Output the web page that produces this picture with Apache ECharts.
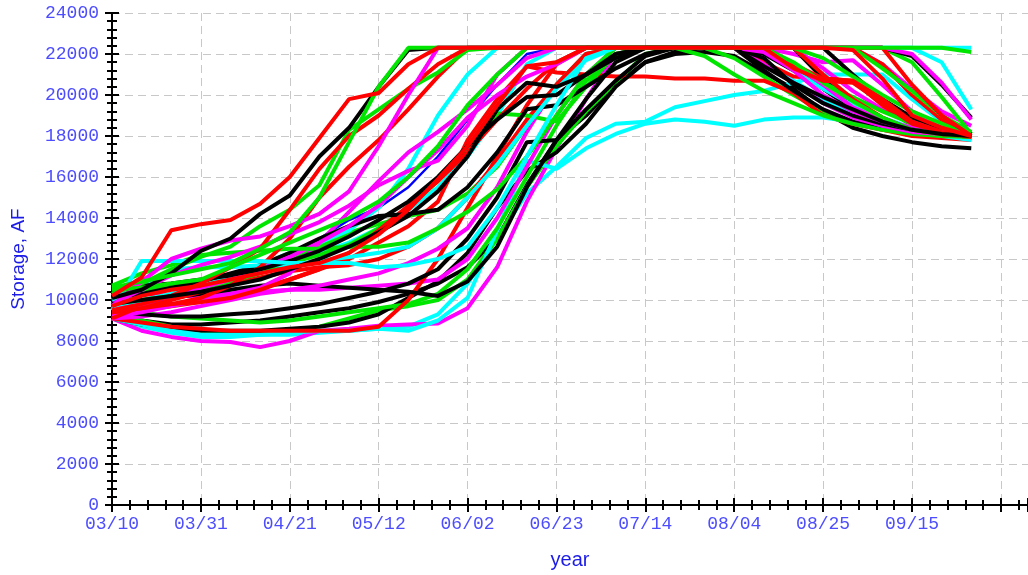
<!DOCTYPE html>
<html>
<head>
<meta charset="utf-8">
<script src="https://cdn.jsdelivr.net/npm/echarts@6/dist/echarts.min.js"></script>
<style>
html,body{margin:0;padding:0;background:#fff;}
#chart{width:1028px;height:575px;}
</style>
</head>
<body>
<div id="chart"></div>
<script>
// Weekly sample days counted from 03/10
const days = [0,7,14,21,28,35,42,49,56,63,70,77,84,91,98,105,112,119,126,133,140,147,154,161,168,175,182,189,196,203];
const tickLabels = ['03/10','03/31','04/21','05/12','06/02','06/23','07/14','08/04','08/25','09/15'];

const B1 = [10100,10500,11300,12400,13000,14200,15100,17000,18400,20400,22200,22300,22300,22300,22300,22300,22300,22300,22300,22300,22300,22300,21400,20600,19900,19300,18700,18300,18100,18000];
const B2 = [9800,10000,10200,10400,10700,11000,11500,12000,12600,13300,14100,15300,17000,19300,20600,20400,21000,21800,22300,22300,22300,22300,22300,22300,22300,22300,22300,21900,20500,18900];
const B3 = [9300,9800,10100,10300,10500,10700,10800,10700,10600,10500,10400,10200,10900,12600,15500,17800,19800,21600,22300,22300,22300,22300,21200,20200,19300,18700,18400,18200,18100,18000];
const B4 = [10100,10300,10600,10900,11300,11700,12300,13000,13600,14100,14200,14400,15500,17200,19300,19500,20400,21300,22000,22300,22300,22300,22300,22300,22300,21000,19800,18900,18400,18100];
const B5 = [9100,8800,8600,8500,8500,8500,8600,8700,8900,9300,10100,10900,12300,14500,16300,17200,18600,20400,21600,22100,22300,22300,22000,21200,20300,19300,18600,18200,18000,17900];
const B6 = [9200,9000,8800,8800,8900,9000,9200,9400,9600,9900,10300,10800,11600,13000,15600,17800,19000,20500,21600,22000,22100,21900,21100,20300,19200,18400,18000,17700,17500,17400];
const B7 = [9500,9300,9200,9200,9300,9400,9600,9800,10100,10400,10800,11500,13000,15000,17700,17800,19300,20700,21900,22300,22300,22300,22300,22300,20800,19500,18700,18300,18100,18000];
const B8 = [10400,10700,10800,11000,11200,11500,11900,12400,13100,13900,14800,16000,17500,18800,19900,20000,21000,22000,22300,22300,22300,22300,21800,20500,19600,19000,18600,18300,18200,18100];

const R1 = [10200,11100,13400,13700,13900,14700,16000,17900,19800,20100,21500,22300,22300,22300,22300,22300,22300,22300,22300,22300,22300,22300,22300,22300,22300,22200,20800,19000,18400,18000];
const R2 = [9500,9800,10200,10800,11600,12500,14400,16400,18000,19000,20300,21500,22300,22300,22300,22300,22300,22300,22300,22300,22300,22300,22300,21300,20700,20600,19600,18600,18200,17950];
const R3 = [9100,9500,9700,9900,10200,10600,11000,11500,12000,12800,13600,14800,17800,19800,21400,21100,21000,20900,20900,20800,20800,20700,20700,20100,19000,18600,18300,18000,17900,17800];
const R4 = [9100,9700,9800,9900,10100,10500,11000,11500,12300,13400,14600,15800,17200,18800,20300,21600,22300,22300,22300,22300,22300,22300,22300,22300,21000,19800,18900,18300,18100,18000];
const R5 = [9400,9600,9800,10100,10700,11600,13000,15000,16500,17800,19300,20900,22300,22300,22300,22300,22300,22300,22300,22300,22300,22300,22300,21500,20800,20700,19800,18700,18200,18000];
const R6 = [9100,8900,8700,8600,8500,8500,8500,8500,8500,8700,10000,12000,14500,17000,19500,21500,22300,22300,22300,22300,22300,22300,22300,22300,22300,22300,21500,20000,18800,18000];
const R7 = [9300,9600,10000,10400,10800,11100,11400,11600,11700,12000,12600,13500,15000,16800,18800,20500,22000,22300,22300,22300,22300,22300,21600,20900,20800,20700,19500,18500,18100,17950];
const R8 = [9700,10200,10500,10700,11000,11300,11600,11800,12300,13200,14400,15900,17500,19500,21400,21600,22300,22300,22300,22300,22300,22300,22300,22300,22300,22300,22300,20500,19000,18000];

const G1 = [10600,10900,11200,11500,11800,12500,13300,15000,17700,20400,22300,22300,22300,22300,22300,22300,22300,22300,22300,22300,22300,22300,22300,22300,22300,22300,22300,22300,22300,22100];
const G2 = [10300,10800,11500,12100,12600,13600,14400,15600,18300,19300,20300,21100,22200,22300,22300,22300,22300,22300,22300,22300,22300,22300,22300,21600,20600,19700,18900,18300,18100,17950];
const G3 = [10700,11300,11700,12200,12300,12400,12500,12500,12600,12600,12800,13500,14300,15400,17000,19000,21000,22300,22300,22300,22300,22300,22300,22300,21800,20900,20000,19200,18600,18000];
const G4 = [9200,9000,8700,8500,8400,8400,8500,8700,9100,9500,9700,10000,11000,13000,15500,17500,19200,20600,22000,22300,22300,21800,20900,20000,19200,18700,18300,18100,18000,17950];
const G5 = [9800,10000,10200,10500,10900,11300,11800,12200,12700,13500,14500,15800,17500,19100,19000,18700,20400,22000,22300,22300,22300,22300,22300,21500,20600,19900,19200,18600,18200,18000];
const G6 = [10500,10600,10800,11000,11600,12200,12800,13400,14000,14800,16000,17500,19500,21000,22300,22300,22300,22300,22300,22300,22300,22300,22300,22300,22300,22300,21300,20200,19000,18200];
const G7 = [10400,10500,10700,10900,11200,11500,12000,12600,13300,13700,14100,14400,15200,16500,18500,20500,22000,22300,22300,22300,21900,21000,20200,19600,19000,18600,18300,18100,18000,17950];
const G8 = [9600,9400,9200,9100,9000,8900,9000,9200,9400,9600,9800,10300,11500,13500,16000,18500,20700,22000,22300,22300,22300,22300,22300,22300,22300,22300,22300,21600,19900,18100];

const U1 = [10300,10500,10700,11000,11300,11700,12300,13000,13900,14500,15500,17000,18800,20500,22000,22300,22300,22300,22300,22300,22300,22300,22300,22300,22300,22300,21400,20200,19000,18000];

const M1 = [9700,10900,12000,12500,12900,13100,13600,14200,15300,17500,20000,22300,22300,22300,22300,22300,22300,22300,22300,22300,22300,22300,22300,22300,22300,22300,22300,22000,20600,18800];
const M2 = [9100,8500,8200,8000,7950,7700,8000,8500,8600,8750,8800,8850,9600,11600,14800,17400,19800,22000,22300,22300,22300,22300,22300,22000,21600,21700,20500,19200,18500,18000];
const M3 = [9200,9400,9700,10000,10300,10600,11300,12800,14300,15800,17200,18200,19300,20500,21800,22300,22300,22300,22300,22300,22300,22300,21500,20600,19600,18900,18500,18200,18100,18000];
const M4 = [9500,9800,10200,10600,11000,11500,12100,12800,13600,14600,16000,17300,18900,20000,20900,21500,22300,22300,22300,22300,22300,22300,22300,21500,20500,19400,18800,18400,18200,18100];
const M5 = [9100,9200,9400,9700,10000,10300,10500,10700,11000,11300,11800,12500,13500,15500,18200,20500,22000,22300,22300,22300,22300,22300,22300,22300,21300,20200,19300,18700,18300,18100];
const M6 = [10400,10300,10200,10200,10300,10400,10500,10500,10600,10700,10800,11000,12000,14000,16500,19000,21000,22300,22300,22300,22300,22300,22300,22300,22300,22300,21500,20300,19200,18500];
const M7 = [9800,10500,11200,11700,12100,12600,13200,13800,14600,15600,16300,16800,18500,21000,22300,22300,22300,22300,22300,22300,22300,22300,22100,21200,20000,19200,18700,18300,18200,18000];

const C1 = [9500,11900,11900,11900,11900,11900,11800,11800,11800,11600,11700,12000,12600,14500,17000,19500,21800,22300,22300,22300,22300,22300,22300,22300,22300,22300,22300,22300,22300,22300];
const C2 = [10000,10600,11500,11600,11600,11700,11700,11900,12100,12300,12600,13500,15000,16600,18500,20300,21700,22300,22300,22300,22300,22300,22300,22300,22300,22300,22300,22300,21600,19300];
const C3 = [9100,8800,8500,8300,8300,8300,8400,8500,8500,8600,8500,9000,10100,13400,16800,16400,17400,18100,18600,18800,18700,18500,18800,18900,18900,18700,18400,18200,18000,17800];
const C4 = [9100,8700,8400,8200,8200,8300,8300,8400,8500,8600,8700,9300,10800,13000,15200,16500,17900,18600,18700,19400,19700,20000,20200,20600,21000,21000,21000,19800,18700,18000];
const C5 = [10200,10000,10300,10600,11000,11400,11800,12300,12800,13500,14400,15500,17000,19000,21500,22300,22300,22300,22300,22300,22300,22300,21600,20700,19800,19000,18500,18200,18100,18000];
const C6 = [9600,9900,10300,10700,11100,11700,12300,12800,13400,14500,16400,19000,21000,22300,22300,22300,22300,22300,22300,22300,22300,22300,22300,21200,20300,19500,18900,18400,18200,18100];

const BLACK = '#000000', RED = '#ff0000', GREEN = '#00e600', BLUE = '#0000ff', MAGENTA = '#ff00ff', CYAN = '#00ffff';

// drawing order (later on top)
const lines = [
  ['U1', U1, BLUE], ['B6', B6, BLACK], ['C4', C4, CYAN], ['M2', M2, MAGENTA], ['G4', G4, GREEN], ['R3', R3, RED],
  ['B5', B5, BLACK], ['C3', C3, CYAN], ['M6', M6, MAGENTA], ['G8', G8, GREEN], ['R6', R6, RED],
  ['B3', B3, BLACK], ['C5', C5, CYAN], ['M5', M5, MAGENTA], ['G7', G7, GREEN], ['R7', R7, RED],
  ['B7', B7, BLACK], ['C6', C6, CYAN], ['M3', M3, MAGENTA], ['G5', G5, GREEN], ['R4', R4, RED],
  ['B4', B4, BLACK], ['C2', C2, CYAN], ['M4', M4, MAGENTA], ['G3', G3, GREEN], ['R5', R5, RED],
  ['B8', B8, BLACK], ['C1', C1, CYAN], ['M7', M7, MAGENTA], ['G2', G2, GREEN], ['R2', R2, RED],
  ['B2', B2, BLACK], ['M1', M1, MAGENTA], ['G6', G6, GREEN], ['R8', R8, RED], ['B1', B1, BLACK],
  ['G1', G1, GREEN], ['R1', R1, RED]
];

const LABEL_COLOR = '#4d4dff';
const TITLE_COLOR = '#1c1ce6';
const MONO = 'Liberation Mono';

function xFmt(v){
  const k = Math.round(v / 21);
  if (Math.abs(v - k * 21) > 0.01) return '';
  return tickLabels[k] || '';
}
function yFmt(v){ return String(v); }

const baseX = {
  type: 'value', min: 0, max: 216.4, interval: 21,
  position: 'bottom', offset: 0,
  axisLine: { show: true, onZero: false, lineStyle: { color: '#000', width: 2 } }
};
const baseY = {
  type: 'value', min: 0, max: 24000, interval: 2000,
  position: 'left', offset: 0,
  axisLine: { show: true, onZero: false, lineStyle: { color: '#000', width: 2 } }
};

const option = {
  animation: false,
  backgroundColor: '#ffffff',
  grid: { left: 112, right: -2, top: 13, bottom: 63, containLabel: false },
  xAxis: [
    Object.assign({}, baseX, {
      name: 'year', nameLocation: 'middle', nameGap: 45,
      nameTextStyle: { color: TITLE_COLOR, fontSize: 20, fontFamily: 'Liberation Sans' },
      axisTick: { show: true, inside: false, length: 7, lineStyle: { color: '#000', width: 2 } },
      minorTick: { show: true, splitNumber: 5, length: 5, lineStyle: { color: '#000', width: 2 } },
      axisLabel: { show: true, formatter: xFmt, color: LABEL_COLOR, fontFamily: MONO, fontSize: 18, margin: 10, showMaxLabel: false },
      splitLine: { show: true, lineStyle: { color: '#c8c8c8', width: 1, type: [8, 5] } }
    }),
    Object.assign({}, baseX, {
      axisTick: { show: true, inside: true, length: 7, lineStyle: { color: '#000', width: 2 } },
      minorTick: { show: true, splitNumber: 5, length: 5, lineStyle: { color: '#000', width: 2 } },
      axisLabel: { show: false },
      splitLine: { show: false }
    })
  ],
  yAxis: [
    Object.assign({}, baseY, {
      name: 'Storage, AF', nameLocation: 'middle', nameGap: 84,
      nameTextStyle: { color: TITLE_COLOR, fontSize: 19, fontFamily: 'Liberation Sans' },
      axisTick: { show: true, inside: false, length: 7, lineStyle: { color: '#000', width: 2 } },
      minorTick: { show: true, splitNumber: 5, length: 5, lineStyle: { color: '#000', width: 2 } },
      axisLabel: { show: true, formatter: yFmt, color: LABEL_COLOR, fontFamily: MONO, fontSize: 18, margin: 13 },
      splitLine: { show: true, lineStyle: { color: '#c8c8c8', width: 1, type: [8, 5] } }
    }),
    Object.assign({}, baseY, {
      axisTick: { show: true, inside: true, length: 7, lineStyle: { color: '#000', width: 2 } },
      minorTick: { show: true, splitNumber: 5, length: 5, lineStyle: { color: '#000', width: 2 } },
      axisLabel: { show: false },
      splitLine: { show: false }
    })
  ],
  series: lines.map(([name, vals, color]) => ({
    name: name,
    type: 'line',
    xAxisIndex: 0,
    yAxisIndex: 0,
    data: days.map((d, i) => [d, vals[i]]),
    showSymbol: false,
    symbol: 'none',
    lineStyle: { color: color, width: color === BLUE ? 2.5 : 4 },
    itemStyle: { color: color },
    z: 3
  }))
};

const chart = echarts.init(document.getElementById('chart'), null, { renderer: 'canvas' });
chart.setOption(option);
</script>
</body>
</html>
